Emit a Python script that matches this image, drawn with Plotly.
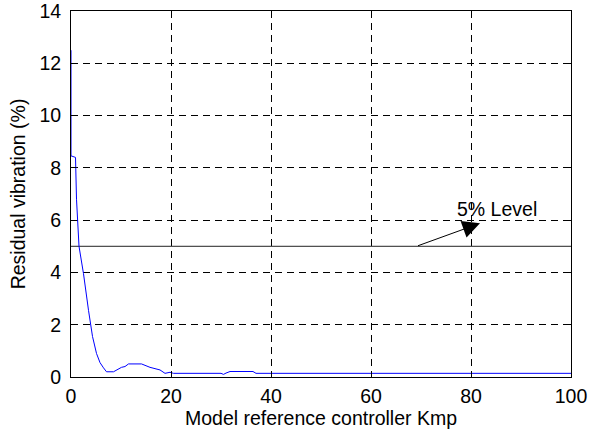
import plotly.graph_objects as go

# Residual vibration curve
kmp = [0, 0, 0.15, 0.9, 1.1, 1.6, 2.5, 3.5, 4.3, 5.1, 5.8, 6.5, 7.1, 8.5, 9.5,
       10.1, 10.8, 11.5, 14.1, 15.8, 17.8, 18.8, 19.8, 20.5, 30.0, 30.5, 31.0,
       31.8, 36.4, 37.0, 100]
residual = [12.5, 8.45, 8.45, 8.4, 6.8, 5.0, 3.95, 2.55, 1.55, 0.9, 0.55, 0.35,
            0.2, 0.2, 0.3, 0.37, 0.4, 0.5, 0.5, 0.37, 0.27, 0.14, 0.18, 0.14,
            0.14, 0.1, 0.15, 0.21, 0.21, 0.14, 0.14]

level_x = [0, 100]
level_y = [5, 5]
level_label = "5% Level"
arrow_tail = (69.1, 5.0)
arrow_head = (81.8, 5.88)
label_pos = (85.2, 6.42)

x_ticks = [0, 20, 40, 60, 80, 100]
y_ticks = [0, 2, 4, 6, 8, 10, 12, 14]

FONT = "Liberation Sans, Arial, sans-serif"
FS = 19.5

fig = go.Figure()
fig.add_trace(go.Scatter(x=level_x, y=level_y, mode="lines",
                         line=dict(color="#222222", width=1), showlegend=False))
fig.add_trace(go.Scatter(x=kmp, y=residual, mode="lines",
                         line=dict(color="#0000ff", width=1), showlegend=False))

fig.add_annotation(x=arrow_head[0], y=arrow_head[1], ax=arrow_tail[0], ay=arrow_tail[1],
                   xref="x", yref="y", axref="x", ayref="y", text="",
                   showarrow=True, arrowhead=2, arrowsize=3.5, arrowwidth=1,
                   arrowcolor="black")
fig.add_annotation(x=label_pos[0], y=label_pos[1], xref="x", yref="y",
                   text=level_label, showarrow=False,
                   font=dict(family=FONT, size=FS, color="black"))

axis_common = dict(showline=True, linecolor="black", linewidth=1, mirror="ticks",
                   ticks="inside", ticklen=5, tickcolor="black",
                   showgrid=True, gridcolor="black", gridwidth=1, griddash="7px,5px",
                   zeroline=False, automargin=False, ticklabeloverflow="allow",
                   tickfont=dict(family=FONT, size=FS, color="black"))

fig.update_xaxes(range=[0, 100], tickvals=x_ticks, ticklabelstandoff=2,
                 title=dict(text="Model reference controller Kmp",
                            font=dict(family=FONT, size=FS, color="black"), standoff=4),
                 **axis_common)
fig.update_yaxes(range=[0, 14], tickvals=y_ticks, ticklabelstandoff=5,
                 title=dict(text="Residual vibration (%)",
                            font=dict(family=FONT, size=FS, color="black"), standoff=8),
                 **axis_common)

fig.update_layout(width=589, height=434,
                  margin=dict(l=71, r=18, t=11, b=57),
                  paper_bgcolor="white", plot_bgcolor="white",
                  showlegend=False)

fig.write_html("out.html")
